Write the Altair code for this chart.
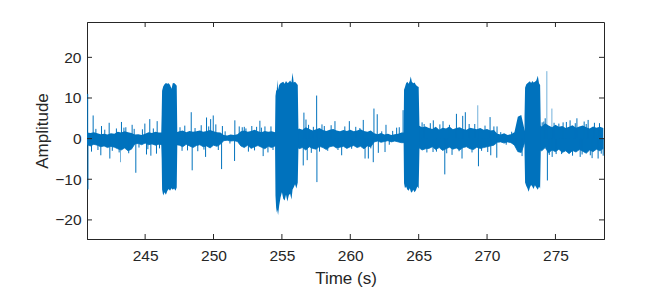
import altair as alt
import pandas as pd

# ---------------- data ----------------
x_ticks = [245, 250, 255, 260, 265, 270, 275]
y_ticks = [-20, -10, 0, 10, 20]

# baseline noise band, sampled every 0.25 s starting at 240.75 s
env_hi = [1.5, 1.4, 1.6, 1.3, 1.1, 1.2, 1.0, 1.3, 1.2, 1.7, 1.5, 1.8, 1.6, 1.4,
          1.0, 1.1, 0.9, 1.2, 1.6, 1.4, 1.7, 1.5, 1.5, 1.5, 1.5, 1.5, 1.5,
          1.8, 2.0, 1.6, 1.9, 1.7, 1.8, 2.0, 1.7, 1.9, 2.1, 1.8, 1.6, 1.5,
          0.9, 0.8, 1.0, 0.9, 1.1,
          1.8, 2.0, 1.7, 1.9, 2.2, 1.8, 1.6, 1.9, 1.7, 1.8, 1.6,
          1.8, 1.8, 1.8, 1.8, 1.8, 1.8,
          2.5, 2.2, 2.8, 2.4, 2.0, 2.3, 2.6, 2.1, 1.9, 2.2, 2.4, 2.0, 1.8, 2.1,
          1.9, 2.2, 1.8, 2.0, 2.3, 1.9, 1.7, 2.0,
          1.3, 1.1, 1.4, 1.0, 1.2, 0.9, 1.1, 1.2, 1.5,
          1.5, 1.5, 1.5, 1.5,
          3.2, 2.8, 3.0,
          2.6, 2.4, 2.9, 2.2, 2.7, 2.5, 3.0, 2.3, 2.6, 2.8, 2.4, 2.2, 2.7, 2.5,
          2.3, 2.6, 2.2, 2.4, 2.0, 2.1,
          1.2, 1.0, 1.3, 0.9, 1.1, 1.6,
          5.4, 5.8,
          2.0, 2.0, 2.0, 2.0,
          3.5, 3.0, 3.8, 3.2, 2.8, 3.4, 2.9, 3.1, 2.6, 2.9, 3.3, 2.7, 3.0, 3.2,
          2.8, 2.5, 3.0, 2.7, 2.9, 2.6]
env_lo = [-1.5, -1.8, -1.4, -1.6, -2.0, -1.8, -2.2, -1.9, -2.1, -2.5, -2.8, -2.3, -3.0, -2.6,
          -1.3, -1.2, -1.5, -1.1, -1.5, -1.3, -1.6, -1.4, -1.5, -1.5, -1.5, -1.5, -1.5,
          -1.6, -2.0, -1.4, -1.8, -2.2, -1.7, -1.5, -2.0, -1.8, -2.3, -1.6, -1.9, -1.4,
          -0.5, -0.4, -0.6, -0.5, -0.7,
          -1.8, -2.2, -1.6, -2.4, -2.0, -1.7, -2.1, -2.5, -1.9, -2.2, -1.8,
          -1.5, -1.5, -1.5, -1.5, -1.5, -1.5,
          -2.5, -2.2, -2.8, -2.0, -2.4, -2.6, -1.9, -2.2, -2.7, -2.0, -1.8, -2.3, -2.1, -1.9,
          -2.4, -2.0, -1.7, -2.2, -1.9, -2.5, -1.8, -2.0,
          -0.8, -0.6, -0.9, -0.7, -0.5, -0.8, -0.6, -0.8, -1.0,
          -1.0, -1.0, -1.0, -1.0,
          -2.2, -2.8, -2.5,
          -2.4, -2.0, -2.7, -2.2, -2.9, -2.5, -2.1, -2.6, -2.3, -2.8, -2.2, -2.0, -2.5, -2.7,
          -2.1, -2.4, -2.2, -2.0, -1.8, -1.6,
          -0.9, -0.8, -1.1, -0.8, -1.0, -1.6,
          -3.2, -3.4,
          -1.0, -1.0, -1.0, -1.0,
          -2.5, -3.0, -2.2, -3.5, -2.8, -3.2, -2.6, -3.4, -3.0, -3.7, -2.9, -3.3, -2.7, -3.1,
          -3.6, -2.8, -3.2, -2.6, -3.0, -2.4]
env_t0 = 240.75
env_step = 0.25

# the four bursts: time, upper and lower envelope
burst1_t = [246.18, 246.21, 246.24, 246.32, 246.42, 246.52, 246.62, 246.72, 246.82, 246.93, 247.02, 247.12, 247.22, 247.31, 247.35]
burst1_hi = [1.5, 6.0, 11.8, 12.8, 13.4, 13.7, 13.5, 13.6, 13.2, 12.3, 13.6, 13.7, 13.4, 13.0, 1.8]
burst1_lo = [-1.5, -5.0, -12.5, -14.0, -13.2, -13.8, -12.9, -12.4, -12.8, -12.2, -12.6, -12.3, -12.8, -12.0, -1.8]

burst2_t = [254.50, 254.53, 254.58, 254.63, 254.66, 254.72, 254.80, 254.90, 255.00, 255.10, 255.20,
            255.30, 255.40, 255.50, 255.60, 255.70, 255.78, 255.86, 255.96, 256.06, 256.16, 256.21]
burst2_hi = [1.8, 10.5, 11.8, 12.0, 14.5, 12.0, 13.2, 13.6, 13.8, 14.0, 13.5,
             14.2, 13.7, 13.9, 14.3, 13.8, 16.2, 13.8, 14.0, 13.6, 13.2, 1.8]
burst2_lo = [-1.8, -14.0, -17.0, -18.2, -17.5, -18.8, -16.5, -14.5, -13.2, -14.8, -15.2,
             -13.8, -15.5, -14.0, -13.5, -15.0, -12.5, -12.0, -11.2, -12.3, -10.8, -2.0]

burst3_t = [263.90, 263.93, 264.00, 264.08, 264.17, 264.26, 264.35, 264.42, 264.50, 264.60, 264.70, 264.80, 264.90, 265.00, 265.06]
burst3_hi = [1.5, 12.0, 12.7, 13.6, 14.0, 13.5, 14.2, 15.3, 14.0, 13.6, 13.8, 13.2, 12.9, 12.7, 2.5]
burst3_lo = [-1.0, -11.0, -12.2, -11.8, -12.5, -12.8, -12.2, -13.0, -13.3, -12.6, -13.2, -12.7, -11.8, -12.3, -2.0]

burst4_t = [272.74, 272.78, 272.86, 272.95, 273.04, 273.13, 273.22, 273.31, 273.40, 273.50, 273.60, 273.71, 273.80, 273.88, 273.93]
burst4_hi = [5.5, 12.5, 13.3, 13.6, 13.9, 14.1, 13.7, 14.2, 13.8, 14.0, 14.3, 15.5, 13.6, 13.2, 2.5]
burst4_lo = [-3.4, -10.8, -11.6, -12.2, -13.1, -12.0, -11.4, -11.8, -12.4, -11.5, -12.0, -12.6, -11.8, -12.3, -2.5]

# isolated spikes (time, peak value)
spike_t = [240.80, 240.82, 241.08, 241.20, 241.76, 241.81, 242.37, 242.42, 243.27, 243.59, 244.05,
           244.32, 244.98, 245.10, 245.34, 245.42, 245.83, 245.88,
           248.37, 248.44, 249.42, 249.49, 249.79, 249.98, 250.17, 250.59, 250.65, 251.54, 251.56,
           251.88, 252.10, 252.37, 253.15, 253.39, 253.63, 253.76, 253.98,
           256.56, 256.61, 256.76, 256.85, 257.54, 257.56, 257.93, 258.88, 259.37, 259.93, 260.95,
           261.08, 261.32, 261.68, 261.73, 261.97, 262.05, 262.54, 262.61, 263.39, 263.58, 263.86,
           265.25, 266.05, 266.07, 266.78, 266.91, 267.44, 267.76, 268.17, 268.22, 268.41, 268.69,
           269.37, 270.22, 270.27, 270.71, 270.73, 272.56,
           274.03, 274.25, 274.41, 274.76, 275.05, 275.56, 276.07, 276.57, 276.81, 277.10, 277.39,
           277.68, 278.12, 278.22, 278.49]
spike_v = [11.0, -12.5, -3.2, 5.7, -4.1, 3.1, 3.9, -4.9, 4.1, 2.8, 3.4,
           -8.4, 3.7, -3.9, 4.8, -4.2, -3.7, 4.3,
           6.5, -7.8, -4.5, 5.2, 4.8, 5.7, 3.5, -7.5, 3.1, -5.5, 4.5,
           3.0, 2.8, 2.5, 2.9, 4.4, -4.3, 3.0, -3.4,
           -6.6, 6.4, 4.7, -5.3, 10.6, -10.7, 3.5, 4.3, -4.1, 4.3, 4.6,
           -4.9, -4.9, -5.8, 7.4, 6.0, -3.5, -3.3, 3.4, 2.7, 2.8, 7.0,
           4.0, -3.3, 4.5, 4.3, -8.8, -4.0, 6.1, -4.9, 5.6, 6.5, 3.6,
           -6.8, 5.3, -4.1, -4.7, 3.0, -4.3,
           4.0, 5.0, -10.3, -4.5, -3.8, 4.0, 4.5, 5.0, -4.5, 4.2, 4.6,
           -4.8, -4.9, 3.8, -4.2]
# small noise excursions just outside the band
minor_t = [241.40, 241.55, 242.05, 242.60, 242.90, 243.10, 243.45, 243.80, 244.20, 244.55, 244.80,
           245.20, 245.60, 246.05, 247.55, 247.70, 247.90, 248.10, 248.65, 248.85, 249.10, 249.30,
           249.65, 250.35, 250.85, 251.20, 252.25, 252.55, 252.80, 253.00, 253.50, 254.20, 254.35,
           256.95, 257.15, 257.30, 257.75, 258.10, 258.35, 258.60, 259.10, 259.60, 260.10, 260.40,
           260.70, 261.50, 262.30, 262.85, 263.10, 265.40, 265.60, 265.85, 266.30, 266.55, 267.05,
           267.25, 267.95, 268.90, 269.10, 269.60, 269.85, 270.05, 270.50, 271.00, 271.40, 271.80,
           272.10, 274.15, 274.55, 274.90, 275.25, 275.45, 275.80, 276.25, 276.45, 276.95, 277.25,
           277.55, 277.85, 278.35]
minor_v = [2.4, -2.8, 2.2, -3.0, 2.5, -3.4, 2.7, -3.6, 2.4, -2.2, 2.3,
           -2.6, 2.5, -2.4, 2.8, -3.0, 3.2, -2.9, 2.6, -3.1, 3.3, -2.7,
           3.0, -2.8, 1.8, -1.2, 2.9, -3.2, 3.1, -2.9, 2.7, 3.0, -2.8,
           3.4, -3.5, 2.9, -3.2, 3.1, -3.0, 3.3, -2.8, 3.0, -2.5, 2.9,
           2.6, -2.4, 1.8, -1.5, 1.9, 3.6, -3.4, 3.8, -3.2, 3.5, -3.6,
           3.4, -3.1, -3.4, 3.6, -3.0, 3.2, -3.3, 3.0, 1.6, -1.5, 1.7,
           -1.4, 4.2, -4.0, 3.9, 3.7, -3.8, 4.1, -4.2, 3.8, -3.9, 3.6,
           -4.1, 3.9, -3.7]
# fainter spikes
faint_t = [243.20, 269.32, 274.37, 274.74]
faint_v = [-5.8, 8.2, 16.6, 7.4]

# ---------------- tables ----------------
env = pd.DataFrame({"t": [env_t0 + env_step * i for i in range(len(env_hi))],
                    "hi": env_hi, "lo": env_lo})
bursts = pd.concat([
    pd.DataFrame({"t": burst1_t, "hi": burst1_hi, "lo": burst1_lo, "b": 1}),
    pd.DataFrame({"t": burst2_t, "hi": burst2_hi, "lo": burst2_lo, "b": 2}),
    pd.DataFrame({"t": burst3_t, "hi": burst3_hi, "lo": burst3_lo, "b": 3}),
    pd.DataFrame({"t": burst4_t, "hi": burst4_hi, "lo": burst4_lo, "b": 4}),
])
spikes = pd.DataFrame({"t": spike_t + minor_t, "v": spike_v + minor_v, "z": 0.0})
faint = pd.DataFrame({"t": faint_t, "v": faint_v, "z": 0.0})
xt = pd.DataFrame({"t": x_ticks})
yt = pd.DataFrame({"v": y_ticks})

BLUE = "#0072BD"
INK = "#262626"
FONT = "Liberation Sans"
W, H = 517, 217

xs = alt.Scale(domain=[240.75, 278.55], nice=False, zero=False)
ys = alt.Scale(domain=[-24.7, 28.7], nice=False, zero=False)

x_axis = alt.Axis(values=x_ticks, tickSize=0, grid=False, title="Time (s)",
                  labelPadding=9, titlePadding=7, format="d")
y_axis = alt.Axis(values=y_ticks, tickSize=0, grid=False, title="Amplitude",
                  labelPadding=6, titlePadding=3, format="d")

band = alt.Chart(env).mark_area(color=BLUE, opacity=1, clip=True,
                                line={"color": BLUE, "strokeWidth": 0.8}).encode(
    x=alt.X("t:Q", scale=xs, axis=x_axis),
    y=alt.Y("lo:Q", scale=ys, axis=y_axis),
    y2="hi:Q",
)
burst = alt.Chart(bursts).mark_area(color=BLUE, opacity=1, clip=True).encode(
    x=alt.X("t:Q", scale=xs),
    y=alt.Y("lo:Q", scale=ys),
    y2="hi:Q",
    detail="b:N",
)
sp = alt.Chart(spikes).mark_rule(color=BLUE, strokeWidth=1, clip=True).encode(
    x=alt.X("t:Q", scale=xs), y=alt.Y("z:Q", scale=ys), y2="v:Q")
fs = alt.Chart(faint).mark_rule(color=BLUE, strokeWidth=1, opacity=0.55, clip=True).encode(
    x=alt.X("t:Q", scale=xs), y=alt.Y("z:Q", scale=ys), y2="v:Q")

tick_b = alt.Chart(xt).mark_rule(color=INK, strokeWidth=1).encode(
    x=alt.X("t:Q", scale=xs), y=alt.value(H), y2=alt.value(H - 5))
tick_t = alt.Chart(xt).mark_rule(color=INK, strokeWidth=1).encode(
    x=alt.X("t:Q", scale=xs), y=alt.value(0), y2=alt.value(5))
tick_l = alt.Chart(yt).mark_rule(color=INK, strokeWidth=1).encode(
    y=alt.Y("v:Q", scale=ys), x=alt.value(0), x2=alt.value(5))
tick_r = alt.Chart(yt).mark_rule(color=INK, strokeWidth=1).encode(
    y=alt.Y("v:Q", scale=ys), x=alt.value(W), x2=alt.value(W - 5))

chart = alt.layer(band, burst, fs, sp, tick_b, tick_t, tick_l, tick_r).properties(
    width=W, height=H,
    autosize=alt.AutoSizeParams(type="none"),
    padding={"left": 79, "top": 14, "right": 56, "bottom": 58},
    background="white",
).configure_view(stroke=INK, strokeWidth=1).configure_axis(
    domainColor=INK, domainWidth=1, labelColor=INK, titleColor=INK,
    labelFont=FONT, titleFont=FONT, labelFontSize=15.5, titleFontSize=17,
    titleFontWeight="normal",
)

chart.save("out.html", embed_options={"renderer": "svg", "actions": False})
